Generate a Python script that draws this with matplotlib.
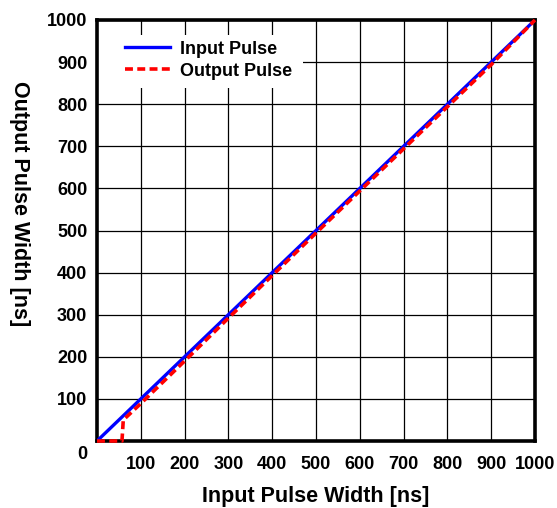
import numpy as np
from matplotlib import pyplot as plt
from matplotlib.patches import Rectangle

plt.rcParams['font.family'] = ['Liberation Sans', 'DejaVu Sans']
plt.rcParams['font.weight'] = 'bold'

input_x = [0, 1000]
input_y = [0, 1000]
output_x = [0, 57, 57, 60, 100, 200, 300, 400, 500, 600, 700, 800, 900, 1000]
output_y = [0, 0, 0, 50, 89, 190, 292, 393, 494, 594, 694, 794, 894, 1000]
ticks = [100, 200, 300, 400, 500, 600, 700, 800, 900, 1000]

fig = plt.figure(figsize=[5.57, 5.08], dpi=100)
ax = fig.add_axes([97/557, 1 - 441/508, 438/557, 421/508])
ax.plot(input_x, input_y, color='#0000ff', lw=2.4, label='Input Pulse', zorder=3)
ax.plot(output_x, output_y, color='#ff0000', lw=2.6, ls=(0, (2.2, 1.2)),
        label='Output Pulse', zorder=4, clip_on=False)
ax.set_xlim(0, 1000)
ax.set_ylim(0, 1000)
ax.set_xticks(ticks)
ax.set_yticks(ticks)
ax.tick_params(axis='x', length=0, labelsize=13, pad=11)
ax.tick_params(axis='y', length=0, labelsize=13, pad=7)
for lab in ax.get_xticklabels() + ax.get_yticklabels():
    lab.set_fontweight('bold')
ax.text(-0.022, -0.033, '0', transform=ax.transAxes, ha='right', va='center',
        fontsize=13, fontweight='bold')
ax.grid(True, color='black', lw=0.9)
for s in ax.spines.values():
    s.set_linewidth(2.6)
ax.set_xlabel('Input Pulse Width [ns]', fontsize=15.5, fontweight='bold', labelpad=9)
ax.set_ylabel('Output Pulse Width [ns]', fontsize=15.5, fontweight='bold',
              rotation=-90, va='center')
ax.yaxis.set_label_coords(-0.176, 0.565)

# white box behind the legend, hides the grid
ax.add_patch(Rectangle((0, 0.838), 0.47, 0.126, transform=ax.transAxes,
                       facecolor='white', edgecolor='none', zorder=2))
leg = ax.legend(loc='upper left', bbox_to_anchor=(0.064, 0.951), frameon=False,
                handlelength=2.5, handletextpad=0.55, borderaxespad=0.0,
                borderpad=0.0, labelspacing=0.28, prop={'weight': 'bold', 'size': 13})

fig.savefig('out.png', dpi=100)
